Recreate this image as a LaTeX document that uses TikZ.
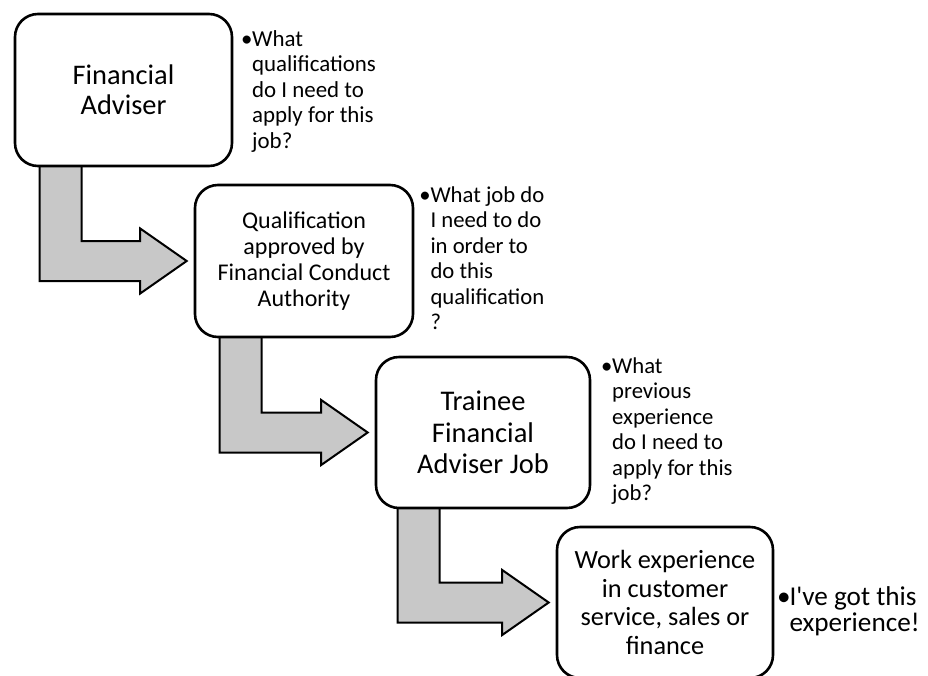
\documentclass[tikz,border=0pt]{standalone}
\usepackage{fontspec}
\setmainfont{Carlito}
\newfontfamily\plainfont{Carlito}
\usetikzlibrary{calc,backgrounds}
\definecolor{arrowgray}{RGB}{200,200,200}
\tikzset{
  stepbox/.style={draw=black, line width=2.6pt, rounded corners=23pt, fill=white, align=center, inner sep=2pt},
  blockarrow/.style={draw=black, line width=2pt, fill=arrowgray, line join=miter},
  bullettext/.style={anchor=base west, inner sep=0pt, outer sep=0pt}
}
% #1 from node, #2 to node, #3 shaft offset from left edge of #1
\newcommand\bentarrow[3]{%
  \draw[blockarrow] let \p1=(#1.south west), \p2=(#2.west) in
    (\x1+#3,\y1+4pt) -- (\x1+#3+42pt,\y1+4pt) -- (\x1+#3+42pt,\y2+20pt)
    -- (\x2-53.5pt,\y2+20pt) -- (\x2-53.5pt,\y2+32.5pt) -- (\x2-7pt,\y2)
    -- (\x2-53.5pt,\y2-32.5pt) -- (\x2-53.5pt,\y2-20pt) -- (\x1+#3,\y2-20pt) -- cycle;}
\newcommand\bulletlist[3]{{\fontsize{#1}{25.5}\selectfont\begin{tabular}[t]{@{}l@{}l@{}}\makebox[11pt][c]{•}&#2#3\end{tabular}}}
\begin{document}
\begin{tikzpicture}[x=1pt,y=-1pt]
\useasboundingbox (0,0) rectangle (928,675);
% boxes
\node[stepbox, minimum width=217pt, minimum height=152pt, font=\fontsize{28.4}{30}\selectfont] (b1) at (123.5,90) {Financial\\Adviser};
\node[stepbox, minimum width=218pt, minimum height=152pt, font=\fontsize{24}{26}\selectfont] (b2) at (304,261) {Qualification\\approved by\\Financial Conduct\\Authority};
\node[stepbox, minimum width=214pt, minimum height=151pt, font=\fontsize{28.5}{31.7}\selectfont] (b3) at (483,432.5) {Trainee\\Financial\\Adviser Job};
\node[stepbox, minimum width=216pt, minimum height=151pt, font=\fontsize{26.3}{28.4}\selectfont] (b4) at (665,602.5) {Work experience\\in customer\\service, sales or\\finance};
% bullet texts
\node[bullettext] (q1) at (241.2,46) {\bulletlist{22.9}{What}{\\&qualifications\\&do I need to\\&apply for this\\&job?}};
\node[bullettext] (q2) at (419.5,202) {\bulletlist{22.7}{What job do}{\\&I need to do\\&in order to\\&do this\\&qualification\\&?}};
\node[bullettext] (q3) at (601.2,373) {\bulletlist{22.7}{What}{\\&previous\\&experience\\&do I need to\\&apply for this\\&job?}};
\node[bullettext] (q4) at (778.5,605) {\bulletlist{27.2}{I{\plainfont\symbol{39}}ve got this}{\\&experience!}};
% arrows
\begin{scope}[on background layer]
  \bentarrow{b1}{b2}{26pt}
  \bentarrow{b2}{b3}{26pt}
  \bentarrow{b3}{b4}{23pt}
\end{scope}
\end{tikzpicture}
\end{document}
